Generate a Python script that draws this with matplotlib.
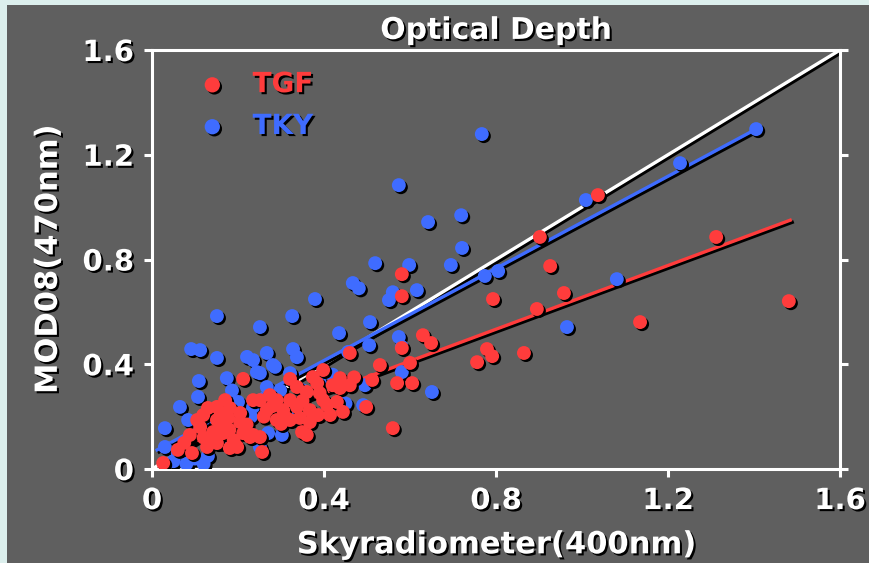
import matplotlib
matplotlib.use('Agg')
import matplotlib.pyplot as plt
import matplotlib.patheffects as pe
from matplotlib.patches import Rectangle

# TKY (blue) sky radiometer vs MOD08
tky_x = [0.767, 1.405, 1.228, 1.009, 0.574, 0.642, 0.719, 0.721, 0.695, 0.598,
         0.519, 0.467, 0.481, 0.560, 0.551, 0.616, 0.774, 0.805, 0.507, 0.151,
         0.251, 0.326, 0.379, 0.435, 0.091, 0.112, 0.267, 0.328, 0.337, 1.081,
         0.965, 0.151, 0.221, 0.235, 0.281, 0.456, 0.505, 0.574, 0.581, 0.651,
         0.491, 0.174, 0.109, 0.107, 0.065, 0.084, 0.030, 0.030, 0.251, 0.186,
         0.200, 0.298, 0.302, 0.270, 0.251, 0.286, 0.244, 0.235, 0.267, 0.321,
         0.495, 0.581, 0.05, 0.08, 0.10, 0.13, 0.12, 0.06, 0.16, 0.20,
         0.23, 0.35, 0.39, 0.42, 0.14, 0.18, 0.45, 0.33]
tky_y = [1.279, 1.298, 1.168, 1.027, 1.084, 0.943, 0.969, 0.844, 0.779, 0.779,
         0.786, 0.710, 0.690, 0.675, 0.645, 0.683, 0.737, 0.756, 0.561, 0.584,
         0.542, 0.584, 0.649, 0.519, 0.458, 0.454, 0.443, 0.458, 0.427, 0.725,
         0.542, 0.424, 0.428, 0.416, 0.397, 0.447, 0.473, 0.504, 0.466, 0.294,
         0.244, 0.347, 0.336, 0.275, 0.237, 0.187, 0.156, 0.084, 0.366, 0.300,
         0.256, 0.300, 0.130, 0.137, 0.084, 0.390, 0.370, 0.237, 0.313, 0.366,
         0.320, 0.370, 0.03, 0.02, 0.04, 0.05, 0.02, 0.06, 0.10, 0.16,
         0.20, 0.30, 0.33, 0.36, 0.20, 0.12, 0.25, 0.20]

# TGF (red)
tgf_x = [1.037, 0.902, 0.926, 0.793, 0.958, 0.895, 1.312, 1.481, 1.135, 0.779,
         0.791, 0.756, 0.865, 0.581, 0.581, 0.630, 0.649, 0.581, 0.460, 0.212,
         0.321, 0.398, 0.374, 0.437, 0.530, 0.600, 0.512, 0.570, 0.605, 0.560,
         0.498, 0.444, 0.414, 0.360, 0.256, 0.026, 0.437, 0.460, 0.398, 0.274,
         0.235, 0.321, 0.337, 0.305, 0.367, 0.386, 0.344, 0.367, 0.235, 0.251,
         0.290, 0.205, 0.181, 0.177, 0.130, 0.119, 0.151, 0.142, 0.163, 0.112,
         0.088, 0.093, 0.060, 0.151, 0.181, 0.198, 0.128, 0.228, 0.212, 0.267,
         0.251, 0.151, 0.170, 0.337, 0.360, 0.384, 0.290, 0.205, 0.165, 0.105,
         0.430, 0.407, 0.349, 0.321, 0.300, 0.312, 0.140, 0.190, 0.220, 0.260,
         0.280, 0.350, 0.390, 0.470, 0.120, 0.160, 0.420, 0.075, 0.180]
tgf_y = [1.046, 0.886, 0.775, 0.649, 0.672, 0.611, 0.886, 0.641, 0.561, 0.458,
         0.431, 0.408, 0.443, 0.744, 0.660, 0.511, 0.481, 0.462, 0.443, 0.344,
         0.344, 0.378, 0.351, 0.347, 0.397, 0.405, 0.340, 0.328, 0.328, 0.156,
         0.237, 0.218, 0.206, 0.130, 0.065, 0.023, 0.309, 0.320, 0.263, 0.282,
         0.263, 0.263, 0.237, 0.225, 0.225, 0.206, 0.195, 0.179, 0.130, 0.122,
         0.187, 0.179, 0.233, 0.195, 0.233, 0.206, 0.187, 0.141, 0.160, 0.160,
         0.130, 0.061, 0.073, 0.099, 0.080, 0.084, 0.084, 0.122, 0.137, 0.225,
         0.263, 0.237, 0.263, 0.313, 0.294, 0.328, 0.263, 0.214, 0.137, 0.187,
         0.256, 0.244, 0.141, 0.187, 0.172, 0.195, 0.110, 0.110, 0.170, 0.200,
         0.240, 0.260, 0.290, 0.350, 0.120, 0.210, 0.320, 0.100, 0.150]

# regression lines (end points) and 1:1 line
tky_fit_x = [0.012, 1.405]
tky_fit_y = [0.073, 1.298]
tgf_fit_x = [0.03, 1.484]
tgf_fit_y = [0.065, 0.950]
one_x = [0, 1.6]
one_y = [0, 1.6]

ticks = [0, 0.4, 0.8, 1.2, 1.6]
tick_labels = ['0', '0.4', '0.8', '1.2', '1.6']

grey = '#5f5f5f'
red = '#ff3c3c'
blue = '#3f6cff'

txt_fx = [pe.withSimplePatchShadow(offset=(1.5, -1.5), shadow_rgbFace='black', alpha=1.0)]
line_fx = [pe.SimpleLineShadow(offset=(1.5, -1.5), shadow_color='black', alpha=1.0), pe.Normal()]
dot_fx = [pe.SimplePatchShadow(offset=(1.5, -1.5), shadow_rgbFace='black', alpha=1.0), pe.Normal()]

fig = plt.figure(figsize=(8.7, 5.63), dpi=100)
fig.patch.set_facecolor('#dcefed')
# dark slide panel
fig.patches.append(Rectangle((7 / 870, 0), 1, 1 - 5 / 563, transform=fig.transFigure,
                             facecolor=grey, edgecolor='none', zorder=-10))

ax = fig.add_axes([152 / 870, 1 - 469 / 563, 688 / 870, 419 / 563])
ax.set_facecolor(grey)

ax.plot(one_x, one_y, color='white', lw=2.4, path_effects=line_fx, zorder=2)
ax.plot(tky_fit_x, tky_fit_y, color=blue, lw=2.4, path_effects=line_fx, zorder=2)
ax.plot(tgf_fit_x, tgf_fit_y, color=red, lw=2.4, path_effects=line_fx, zorder=2)

ax.scatter(tky_x, tky_y, s=100, color=blue, linewidths=0, path_effects=dot_fx,
           zorder=3, label='TKY')
ax.scatter(tgf_x, tgf_y, s=100, color=red, linewidths=0, path_effects=dot_fx,
           zorder=4, label='TGF')

ax.set_xlim(0, 1.6)
ax.set_ylim(0, 1.6)
ax.set_xticks(ticks)
ax.set_xticklabels(tick_labels)
ax.set_yticks(ticks)
ax.set_yticklabels(tick_labels)

for s in ax.spines.values():
    s.set_color('white')
    s.set_linewidth(2.2)
ax.tick_params(axis='both', colors='white', width=2.2, length=6, direction='out',
               labelsize=21)
ax.tick_params(axis='x', pad=7)
ax.tick_params(axis='y', right=True, pad=7)
for lab in ax.get_xticklabels() + ax.get_yticklabels():
    lab.set_fontweight('bold')
    lab.set_path_effects(txt_fx)

ax.set_xlabel('Skyradiometer(400nm)', color='white', fontsize=22, fontweight='bold',
              labelpad=11, path_effects=txt_fx)
ax.set_ylabel('MOD08(470nm)', color='white', fontsize=22, fontweight='bold',
              labelpad=14, path_effects=txt_fx)
ax.set_title('Optical Depth', color='white', fontsize=21.5, fontweight='bold',
             pad=8, path_effects=txt_fx)

h, l = ax.get_legend_handles_labels()
leg = ax.legend(h[::-1], l[::-1], loc='upper left', bbox_to_anchor=(0.015, 1.005),
                frameon=False, fontsize=20, handletextpad=0.45, labelspacing=0.5,
                markerscale=1.1, borderpad=0.3)
for t, c in zip(leg.get_texts(), [red, blue]):
    t.set_color(c)
    t.set_fontweight('bold')
    t.set_path_effects(txt_fx)

fig.savefig('out.png', dpi=100, facecolor=fig.get_facecolor())
